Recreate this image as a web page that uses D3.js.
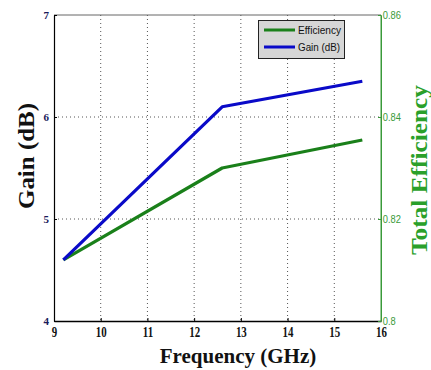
<!DOCTYPE html>
<html><head><meta charset="utf-8">
<script src="https://cdn.jsdelivr.net/npm/d3@7"></script>
<style>body{margin:0;background:#fff}svg{display:block}</style>
</head><body><svg id="c" width="431" height="370"></svg>
<script>
const freq = [9.2, 12.6, 15.6];
const gain = [4.6, 6.1, 6.35];
const efficiency = [0.812, 0.830, 0.8355];
const xTicks = [9,10,11,12,13,14,15,16];
const gainTicks = [4,5,6,7];
const effTicks = [0.8,0.82,0.84,0.86];
const effTickLabels = ["0.8","0.82","0.84","0.86"];
const seriesNames = ["Efficiency","Gain (dB)"];

const svg = d3.select("#c");
const L=54, R=381, T=15, B=321;
const x = d3.scaleLinear().domain([9,16]).range([L,R]);
const yG = d3.scaleLinear().domain([4,7]).range([B,T]);
const yE = d3.scaleLinear().domain([0.8,0.86]).range([B,T]);
const blue="#0a0ac8", green="#1a801a";

// grid
const grid = svg.append("g").attr("stroke","#555").attr("stroke-width",1).attr("stroke-dasharray","1,3");
xTicks.slice(1,-1).forEach(t=>grid.append("line").attr("x1",x(t)).attr("x2",x(t)).attr("y1",T).attr("y2",B));
gainTicks.slice(1,-1).forEach(t=>grid.append("line").attr("x1",L).attr("x2",R).attr("y1",yG(t)).attr("y2",yG(t)));

// frame
svg.append("line").attr("x1",L).attr("x2",R).attr("y1",T).attr("y2",T).attr("stroke","#666").attr("stroke-width",1);
svg.append("line").attr("x1",R).attr("x2",R).attr("y1",T).attr("y2",B).attr("stroke","#3a9a3a").attr("stroke-width",1);

// axes
const xa = svg.append("g").attr("transform",`translate(0,${B})`)
  .call(d3.axisBottom(x).tickValues(xTicks).tickFormat(d3.format("d")).tickSizeInner(-3).tickSizeOuter(0).tickPadding(6));
xa.select(".domain").attr("stroke","#000").attr("stroke-width",1.5);
xa.selectAll(".tick text").attr("font-family","Liberation Serif").attr("font-weight","bold").attr("font-size",14).attr("fill","#111")
  .style("transform","scaleX(0.78)");

const ya = svg.append("g").attr("transform",`translate(${L},0)`)
  .call(d3.axisLeft(yG).tickValues(gainTicks).tickFormat(d3.format("d")).tickSizeInner(-3).tickSizeOuter(0).tickPadding(5));
ya.select(".domain").attr("stroke","#000").attr("stroke-width",1.2);
ya.selectAll("text").attr("font-family","Liberation Serif").attr("font-weight","bold").attr("font-size",11).attr("fill","#1a1a5a");

const ye = svg.append("g").attr("transform",`translate(${R},0)`)
  .call(d3.axisRight(yE).tickValues(effTicks).tickFormat((d,i)=>effTickLabels[i]).tickSizeInner(-3).tickSizeOuter(0).tickPadding(2));
ye.select(".domain").attr("stroke","#3a9a3a");
ye.selectAll("line").attr("stroke","#3a9a3a");
ye.selectAll("text").attr("font-family","Liberation Sans").attr("font-size",11).attr("fill","#3a9a3a").style("transform","scaleX(0.85)");

// lines
const lineG = d3.line().x((d,i)=>x(freq[i])).y(d=>yG(d));
const lineE = d3.line().x((d,i)=>x(freq[i])).y(d=>yE(d));
svg.append("path").datum(efficiency).attr("d",lineE).attr("fill","none").attr("stroke",green).attr("stroke-width",3.2).attr("stroke-linejoin","round");
svg.append("path").datum(gain).attr("d",lineG).attr("fill","none").attr("stroke",blue).attr("stroke-width",3.2).attr("stroke-linejoin","round");

// legend
const lg = svg.append("g");
lg.append("rect").attr("x",258.5).attr("y",20.5).attr("width",86).attr("height",38).attr("fill","#d6d6d6").attr("stroke","#222").attr("stroke-width",1);
[green,blue].forEach((c,i)=>{
  const yy = 30+i*17;
  lg.append("line").attr("x1",264).attr("x2",295).attr("y1",yy).attr("y2",yy).attr("stroke",c).attr("stroke-width",3);
  lg.append("text").attr("x",298).attr("y",yy+4).text(seriesNames[i]).attr("font-family","Liberation Sans").attr("font-size",11).attr("fill","#111")
    .attr("textLength",i==0?43:42).attr("lengthAdjust","spacingAndGlyphs");
});

// titles
svg.append("text").attr("x",238).attr("y",363).attr("text-anchor","middle").text("Frequency (GHz)")
  .attr("font-family","Liberation Serif").attr("font-weight","bold").attr("font-size",21).attr("fill","#111");
svg.append("text").attr("transform","translate(34,156) rotate(-90)").attr("text-anchor","middle").text("Gain (dB)")
  .attr("font-family","Liberation Serif").attr("font-weight","bold").attr("font-size",24).attr("fill","#111")
  .attr("textLength",106).attr("lengthAdjust","spacingAndGlyphs");
svg.append("text").attr("transform","translate(427,170) rotate(-90)").attr("text-anchor","middle").text("Total Efficiency")
  .attr("font-family","Liberation Serif").attr("font-weight","bold").attr("font-size",23).attr("fill","#2aa02a")
  .attr("textLength",170).attr("lengthAdjust","spacingAndGlyphs");
</script></body></html>
